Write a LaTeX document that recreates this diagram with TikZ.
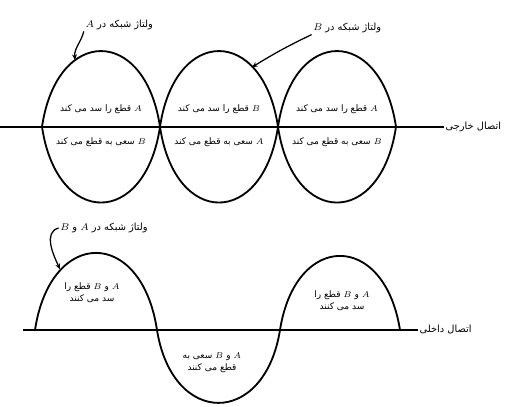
\documentclass[tikz,border=0pt]{standalone}
\usepackage{fontspec}
\newfontfamily\arabicfont[Script=Arabic]{DejaVu Sans}
\TeXXeTstate=1
\usetikzlibrary{arrows.meta}
\begin{document}
\begin{tikzpicture}[
 wave/.style={line width=1.3pt},
 axis/.style={line width=1.2pt},
 lbl/.style={font=\arabicfont\fontsize{7}{8.5}\selectfont,inner sep=1pt,align=center},
 inlbl/.style={lbl,font=\arabicfont\fontsize{6.4}{8.5}\selectfont},
 arr/.style={line width=0.9pt,-{Stealth[length=4pt,width=3.5pt]}}]
 \useasboundingbox (0,0) rectangle (12.725,10.15);
 % upper: external connection
 \node[lbl,anchor=west] (ext) at (11.1,6.98) {\beginR اتصال خارجی\endR};
 \coordinate (extL) at (0,6.98);
 \draw[axis,line width=1.5pt] (extL) -- (ext.west);
 \foreach \s in {1.05,4.0,6.95}
  \draw[wave] (\s,6.98) .. controls +(0.375,2.525) and +(-0.375,2.525) .. (\s+2.95,6.98)
   .. controls +(-0.375,-2.525) and +(0.375,-2.525) .. (\s,6.98);
 \foreach \m/\p/\q [count=\i] in {2.525/A/B,5.475/B/A,8.425/A/B} {
  \node[inlbl] (up\i) at (\m,7.42) {\beginR $\p$ قطع را سد می کند\endR};
  \node[inlbl] (dn\i) at (\m,6.6) {\beginR $\q$ سعی به قطع می کند\endR};
 }
 \node[lbl] (gA) at (2.98,9.53) {\beginR ولتاژ شبکه در $A$\endR};
 \node[lbl] (gB) at (8.68,9.45) {\beginR ولتاژ شبکه در $B$\endR};
 \coordinate (tipA) at (1.875,8.65);
 \coordinate (tipB) at (6.3,8.47);
 \draw[arr] (gA.south west) to[out=-105,in=95] (tipA);
 \draw[arr] (gB.south west) to[bend right=3] (tipB);
 % lower: internal connection
 \node[lbl,anchor=west] (int) at (10.45,1.9) {\beginR اتصال داخلی\endR};
 \coordinate (intL) at (0.575,1.9);
 \draw[axis] (intL) -- (int.west);
 \draw[wave] (0.875,1.9) .. controls +(0.39,2.57) and +(-0.39,2.57) .. (3.925,1.9)
  .. controls +(0.39,-2.43) and +(-0.39,-2.43) .. (7.0,1.9)
  .. controls +(0.39,2.47) and +(-0.39,2.47) .. (10.0,1.9);
 \node[inlbl] (b1) at (2.3,2.83) {\beginR $A$ و $B$ قطع را\endR\\\beginR سد می کنند\endR};
 \node[inlbl] (b2) at (5.3,1.08) {\beginR $A$ و $B$ سعی به\endR\\\beginR قطع می کنند\endR};
 \node[inlbl] (b3) at (8.55,2.63) {\beginR $A$ و $B$ قطع را\endR\\\beginR سد می کنند\endR};
 \node[lbl] (gAB) at (2.6,4.45) {\beginR ولتاژ شبکه در $A$ و $B$\endR};
 \coordinate (tipAB) at (1.5,3.42);
 \draw[arr] (gAB.west) to[out=195,in=115] (tipAB);
\end{tikzpicture}
\end{document}
